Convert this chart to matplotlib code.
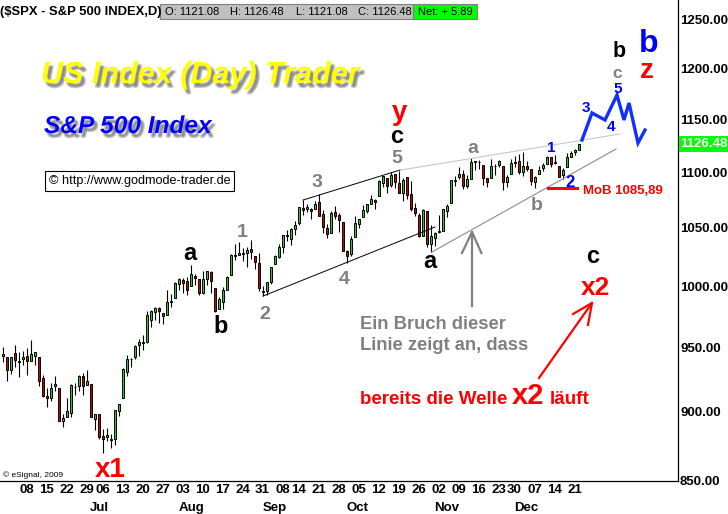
import numpy as np
import pandas as pd
import matplotlib
matplotlib.use('Agg')
import matplotlib.pyplot as plt
from matplotlib import patheffects as pe
from matplotlib.patches import Rectangle
from matplotlib.ticker import FixedLocator, NullLocator, FixedFormatter, NullFormatter
import matplotlib.transforms as mtransforms

# ---------------- data ----------------
holidays = ['2009-07-03', '2009-09-07', '2009-11-26']
dates = [d for d in pd.bdate_range('2009-06-02', '2009-12-24')
         if d.strftime('%Y-%m-%d') not in holidays]

opens = [
    # Jun
    942.87, 942.51, 932.49, 945.67, 938.12, 940.35, 942.73, 939.04, 943.44, 942.45,
    925.60, 911.89, 910.86, 919.96, 918.13, 893.46, 896.31, 899.45, 918.84, 919.86, 927.15,
    # Jul
    920.82, 921.24, 894.27, 898.60, 881.90, 881.28, 880.03, 879.57, 900.77, 910.15,
    930.17, 940.56, 942.07, 951.97, 953.40, 954.07, 972.16, 978.63, 981.48, 977.66,
    976.01, 986.80,
    # Aug
    990.22, 1001.41, 1005.41, 1004.06, 999.83, 1008.89, 1005.77, 994.00, 1005.86, 1012.23,
    998.18, 980.62, 986.88, 996.41, 1009.06, 1026.59, 1026.63, 1027.35, 1027.81, 1031.62,
    1025.21,
    # Sep
    1019.52, 996.07, 996.12, 1003.84, 1018.67, 1025.09, 1032.99, 1043.92, 1040.15, 1049.03,
    1053.99, 1067.87, 1066.60, 1067.14, 1066.35, 1072.69, 1062.56, 1049.48, 1045.38, 1063.69,
    1061.02,
    # Oct
    1054.91, 1029.71, 1026.87, 1042.02, 1053.65, 1060.03, 1065.28, 1071.63, 1074.96, 1078.68,
    1090.36, 1094.67, 1088.22, 1098.64, 1090.36, 1080.96, 1095.62, 1080.36, 1067.54, 1061.51,
    1043.19, 1065.41,
    # Nov
    1036.18, 1040.92, 1047.30, 1047.30, 1064.95, 1072.31, 1091.86, 1096.04, 1098.31, 1087.59,
    1094.13, 1109.22, 1109.44, 1106.44, 1094.66, 1094.86, 1105.83, 1106.49, 1105.47, 1091.07,
    # Dec
    1098.89, 1109.03, 1110.59, 1100.43, 1105.52, 1103.04, 1091.07, 1098.69, 1103.96, 1107.84,
    1114.11, 1108.61, 1106.36, 1097.86, 1105.31, 1114.51, 1118.84, 1121.08,
]
highs = [
    950.15, 942.51, 942.47, 951.69, 946.33, 946.92, 949.77, 956.23, 946.30, 942.45,
    928.00, 918.44, 921.93, 927.09, 918.13, 898.69, 910.85, 921.42, 922.00, 927.99, 930.01,
    931.92, 921.24, 898.72, 898.60, 886.80, 887.86, 883.57, 901.05, 905.84, 933.95,
    943.96, 941.89, 951.62, 956.53, 959.83, 979.42, 979.79, 982.49, 982.35, 977.76,
    996.68, 993.18,
    1003.61, 1007.12, 1006.64, 1008.00, 1018.00, 1010.12, 1005.77, 1012.78, 1013.14, 1012.60,
    998.18, 991.20, 999.61, 1008.92, 1027.59, 1035.82, 1037.75, 1032.47, 1033.33, 1039.47,
    1025.21,
    1028.45, 1000.34, 1003.43, 1016.48, 1026.07, 1036.34, 1044.14, 1048.18, 1049.74, 1056.04,
    1068.76, 1074.77, 1071.52, 1067.28, 1073.81, 1080.15, 1066.29, 1053.47, 1065.13, 1069.62,
    1063.40,
    1054.91, 1030.60, 1042.58, 1060.55, 1058.02, 1070.67, 1071.51, 1079.46, 1075.30, 1093.17,
    1096.56, 1094.67, 1100.17, 1098.64, 1101.36, 1095.21, 1095.83, 1091.75, 1072.48, 1063.26,
    1066.83, 1065.41,
    1052.18, 1046.36, 1061.00, 1066.65, 1071.48, 1093.19, 1096.42, 1105.37, 1101.97, 1097.79,
    1113.69, 1110.52, 1111.10, 1106.44, 1094.66, 1112.38, 1107.56, 1111.18, 1105.47, 1097.24,
    1112.28, 1115.58, 1117.28, 1119.13, 1110.72, 1103.04, 1097.04, 1106.25, 1108.50, 1114.76,
    1114.11, 1116.21, 1106.36, 1103.74, 1117.68, 1120.27, 1121.58, 1126.48,
]
lows = [
    938.67, 923.85, 929.32, 934.13, 926.44, 936.15, 927.97, 939.04, 935.66, 919.65,
    911.60, 903.78, 907.94, 915.80, 893.04, 888.86, 896.31, 896.27, 913.03, 916.18, 912.86,
    920.82, 896.42, 886.36, 879.93, 869.32, 878.45, 872.81, 875.32, 896.50, 910.15,
    927.45, 934.65, 940.99, 943.22, 947.75, 953.27, 965.95, 972.29, 969.35, 968.65,
    976.01, 982.85,
    990.22, 996.68, 994.31, 992.49, 999.83, 1000.99, 992.40, 993.36, 1000.82, 994.60,
    978.51, 980.62, 980.62, 996.39, 1009.06, 1022.48, 1026.21, 1021.57, 1016.20, 1023.13,
    1014.62,
    996.28, 991.97, 992.25, 1001.65, 1018.67, 1023.97, 1028.04, 1038.40, 1035.00, 1043.42,
    1052.87, 1061.20, 1064.27, 1057.46, 1066.35, 1060.39, 1045.85, 1041.17, 1045.38, 1057.83,
    1046.47,
    1029.45, 1019.95, 1025.92, 1042.02, 1050.10, 1060.03, 1063.00, 1071.63, 1066.71, 1078.68,
    1086.41, 1081.53, 1086.48, 1086.16, 1080.77, 1074.31, 1075.49, 1065.23, 1060.62, 1042.19,
    1043.19, 1033.38,
    1029.38, 1033.94, 1045.15, 1047.30, 1059.32, 1072.31, 1087.40, 1093.81, 1084.90, 1085.33,
    1094.13, 1102.19, 1102.70, 1088.40, 1086.81, 1094.86, 1097.63, 1104.75, 1083.74, 1086.25,
    1098.89, 1105.29, 1098.74, 1096.52, 1100.83, 1088.61, 1085.89, 1098.69, 1101.34, 1107.84,
    1105.35, 1107.96, 1095.88, 1093.88, 1105.31, 1114.51, 1116.00, 1121.08,
]
closes = [
    944.74, 931.76, 942.46, 940.09, 939.14, 942.43, 939.15, 944.89, 946.21, 923.72,
    911.97, 910.71, 918.37, 921.23, 893.04, 895.10, 900.94, 920.26, 918.90, 927.23, 919.32,
    923.33, 896.42, 898.72, 881.03, 879.56, 882.68, 879.13, 901.05, 905.84, 932.68,
    940.74, 940.38, 951.13, 954.58, 954.07, 976.29, 979.26, 982.18, 979.62, 975.15,
    986.75, 987.48,
    1002.63, 1005.65, 1002.72, 997.08, 1010.48, 1007.10, 994.35, 1005.81, 1012.73, 1004.09,
    979.73, 989.67, 996.46, 1007.37, 1026.13, 1025.57, 1028.00, 1028.12, 1030.98, 1028.93,
    1020.62,
    998.04, 994.75, 1003.24, 1016.40, 1025.39, 1033.37, 1044.14, 1042.73, 1049.34, 1052.63,
    1068.76, 1065.49, 1068.30, 1064.66, 1071.66, 1060.87, 1050.78, 1044.38, 1062.98, 1060.61,
    1057.08,
    1029.85, 1025.21, 1040.46, 1054.72, 1057.58, 1065.48, 1071.49, 1076.19, 1073.19, 1092.02,
    1096.56, 1087.68, 1097.91, 1091.06, 1081.40, 1092.91, 1079.60, 1066.95, 1063.41, 1042.63,
    1066.11, 1036.19,
    1042.88, 1045.41, 1046.50, 1066.63, 1069.30, 1093.08, 1093.01, 1098.51, 1087.24, 1093.48,
    1109.30, 1110.32, 1109.80, 1094.90, 1091.38, 1106.24, 1105.65, 1110.63, 1091.49, 1095.63,
    1108.86, 1109.24, 1099.92, 1105.98, 1103.25, 1091.94, 1095.95, 1102.35, 1106.41, 1114.11,
    1107.93, 1109.18, 1096.08, 1102.47, 1114.05, 1118.02, 1120.59, 1126.48,
]

y_ticks = [850, 900, 950, 1000, 1050, 1100, 1150, 1200, 1250]
month_names = ['Jul', 'Aug', 'Sep', 'Oct', 'Nov', 'Dec']
last_price = 1126.48
mob_level = 1085.89

# trend lines: (trading-day index, price)
upper_black = ([75.0, 99.25], [1074.8, 1102.2])
lower_black = ([65.0, 108.0], [991.7, 1050.8])
upper_grey = ([99.5, 154.25], [1102.2, 1136.0])
lower_grey = ([107.25, 153.25], [1029.0, 1121.8])
# projected wave (blue)
wave_x = [144.75, 147.25, 150.5, 153.5, 155.25, 156.5, 158.75, 160.5]
wave_y = [1130.3, 1156.2, 1149.4, 1173.7, 1149.4, 1165.9, 1127.4, 1139.8]

# ---------------- figure ----------------
W, H = 728, 514
fig = plt.figure(figsize=(W / 100, H / 100), dpi=100)
fig.patch.set_facecolor('white')
AX_R, AX_B = 678, 481
ax = fig.add_axes([0, (H - AX_B) / H, AX_R / W, AX_B / H])
ax.set_yscale('log')
ax.set_ylim(849.3, 1271)
ax.set_xlim(-0.75, 168.75)
for s in ['left', 'top']:
    ax.spines[s].set_visible(False)
for s in ['right', 'bottom']:
    ax.spines[s].set_linewidth(0.9)
    ax.spines[s].set_color('black')

FONT = 'Liberation Sans'

x = np.arange(len(dates))
o = np.array(opens); h = np.array(highs); l = np.array(lows); c = np.array(closes)
up = c >= o
ax.vlines(x, l, h, colors='black', linewidth=0.8, zorder=2)
ax.bar(x, np.abs(c - o), bottom=np.minimum(o, c), width=0.6,
       color=np.where(up, '#22CC22', '#CC0000'), edgecolor='black',
       linewidth=0.7, zorder=3)

# y axis on the right
ax.yaxis.tick_right()
ax.yaxis.set_major_locator(FixedLocator(y_ticks))
ax.yaxis.set_major_formatter(FixedFormatter([f'{v:.2f}' for v in y_ticks]))
ax.yaxis.set_minor_locator(NullLocator())
ax.yaxis.set_minor_formatter(NullFormatter())
ax.tick_params(axis='y', length=0, pad=1.5, labelsize=9.5)
for t in ax.get_yticklabels():
    t.set_fontfamily(FONT); t.set_fontweight('bold')

# x axis: week starts
week_idx, week_lab = [], []
for i, d in enumerate(dates):
    if i > 0 and d.isocalendar()[1] != dates[i - 1].isocalendar()[1]:
        week_idx.append(i); week_lab.append(f'{d.day:02d}')
ax.set_xticks(week_idx)
ax.set_xticklabels(week_lab)
ax.tick_params(axis='x', length=0, pad=2.5, labelsize=9.5)
for t in ax.get_xticklabels():
    t.set_fontfamily(FONT); t.set_fontweight('bold'); t.set_ha('left')

bt = mtransforms.blended_transform_factory(ax.transData, ax.transAxes)
for mname in month_names:
    first = next(i for i, d in enumerate(dates) if d.strftime('%b') == mname)
    ax.text(first + 0.8, -0.057, mname, transform=bt, ha='left', va='center',
            fontsize=9.5, fontweight='bold', family=FONT, clip_on=False)

# last price box
bt2 = mtransforms.blended_transform_factory(ax.transAxes, ax.transData)
ax.text(1.0 + 2.5 / AX_R, last_price, f'{last_price:.2f}', transform=bt2,
        ha='left', va='center', fontsize=9.5, fontweight='bold', family=FONT,
        color='white', clip_on=False,
        bbox=dict(boxstyle='square,pad=0.12', fc='#00FF00', ec='none'))

# trend lines
ax.plot(*upper_black, color='black', lw=0.7, zorder=4)
ax.plot(*lower_black, color='black', lw=0.7, zorder=4)
ax.plot(*upper_grey, color='#C8C8C8', lw=0.8, zorder=4)
ax.plot(*lower_grey, color='#8C8C8C', lw=0.8, zorder=4)
ax.plot(wave_x, wave_y, color='#1030FF', lw=2.4, zorder=5, solid_joinstyle='miter')

# MoB line
ax.plot([136.25, 143.5], [mob_level, mob_level], color='#FF0000', lw=2.2, zorder=5)

# arrows (grey upward, red)
ax.plot([117.25, 117.25], [983.4, 1046.4], color='#808080', lw=1.6, zorder=5)
ax.plot([114.75, 117.25, 119.6], [1028.1, 1046.4, 1028.1], color='#808080', lw=1.6, zorder=5)
ax.plot([134.0, 147.25], [925.9, 986.0], color='#FF0000', lw=1.6, zorder=5)
ax.plot([142.5, 147.25, 146.25], [976.9, 986.0, 968.0], color='#FF0000', lw=1.6, zorder=5)


def ftxt(px, py, s, color='black', size=14, ha='center', va='baseline', **kw):
    kw.setdefault('fontweight', 'bold')
    kw.setdefault('family', FONT)
    return fig.text(px / W, 1 - py / H, s, color=color, fontsize=size, ha=ha, va=va, **kw)


GREY = '#808080'
BLUE = '#0000FF'
RED = '#FF0000'
ftxt(110, 477, 'x1', RED, 20)
ftxt(190, 260, 'a', 'black', 17)
ftxt(221, 333, 'b', 'black', 17)
ftxt(242, 237, '1', GREY, 14)
ftxt(265, 319, '2', GREY, 14)
ftxt(317, 187, '3', GREY, 14)
ftxt(344, 284, '4', GREY, 14)
ftxt(397, 163, '5', GREY, 14)
ftxt(397, 143, 'c', 'black', 17)
ftxt(400, 120, 'y', RED, 20)
ftxt(473, 153, 'a', GREY, 14)
ftxt(430, 268, 'a', 'black', 17)
ftxt(537, 210, 'b', GREY, 14)
ftxt(551, 152, '1', BLUE, 11)
ftxt(570, 187, '2', BLUE, 12)
ftxt(586, 112, '3', BLUE, 11)
ftxt(611, 131, '4', BLUE, 11)
ftxt(618, 93, '5', BLUE, 11)
ftxt(617, 78, 'c', GREY, 12.5)
ftxt(619, 57, 'b', 'black', 15.5)
ftxt(649, 52, 'b', BLUE, 23)
ftxt(647, 78, 'z', RED, 20)
ftxt(583, 194, 'MoB 1085,89', RED, 9.5, ha='left')
ftxt(593, 263, 'c', 'black', 17)
ftxt(595, 295, 'x2', RED, 19)
ftxt(360, 329, 'Ein Bruch dieser', GREY, 13.2, ha='left')
ftxt(360, 350, 'Linie zeigt an, dass', GREY, 13.2, ha='left')
ftxt(360, 404, 'bereits die Welle', RED, 13.5, ha='left')
ftxt(512, 404, 'x2', RED, 21, ha='left')
ftxt(550, 404, 'läuft', RED, 13.5, ha='left')
ftxt(3, 475, '© eSignal, 2009', 'black', 6, ha='left', va='center', fontweight='normal')


def shadow():
    effs = []
    for dx in (1.6, 2.3, 3.0):
        for dy in (-2.2, -2.9, -3.6):
            effs.append(pe.SimplePatchShadow(offset=(dx, dy), shadow_rgbFace='#555555', alpha=0.11))
    effs.append(pe.Normal())
    return effs


ftxt(41, 83, 'US Index (Day) Trader', '#FFFF00', 22, ha='left', style='italic',
     path_effects=shadow())
ftxt(44, 133, 'S&P 500 Index', '#0000FF', 17.6, ha='left', style='italic',
     path_effects=shadow())
ftxt(49, 181, '© http://www.godmode-trader.de', 'black', 9.1, ha='left', va='center',
     fontweight='normal',
     bbox=dict(boxstyle='square,pad=0.3', fc='white', ec='black', lw=0.8))

# header
ftxt(0, 15, '($SPX - S&P 500 INDEX,D)', 'black', 9.4, ha='left')
fig.add_artist(Rectangle((160 / W, 1 - 19 / H), (413 - 160) / W, 15 / H,
                         transform=fig.transFigure, fc='#C0C0C0', ec='#808080', lw=0.8))
fig.add_artist(Rectangle((413 / W, 1 - 19 / H), (477 - 413) / W, 15 / H,
                         transform=fig.transFigure, fc='#00FF00', ec='#808080', lw=0.8))
ftxt(165, 15, f'O: {opens[-1]:.2f}', 'black', 8, ha='left', fontweight='normal')
ftxt(230, 15, f'H: {highs[-1]:.2f}', 'black', 8, ha='left', fontweight='normal')
ftxt(296, 15, f'L: {lows[-1]:.2f}', 'black', 8, ha='left', fontweight='normal')
ftxt(358, 15, f'C: {closes[-1]:.2f}', 'black', 8, ha='left', fontweight='normal')
ftxt(418, 15, f'Net: + {closes[-1] - closes[-2]:.2f}', 'black', 8, ha='left', fontweight='normal')

fig.savefig('out.png', dpi=100, facecolor='white')
